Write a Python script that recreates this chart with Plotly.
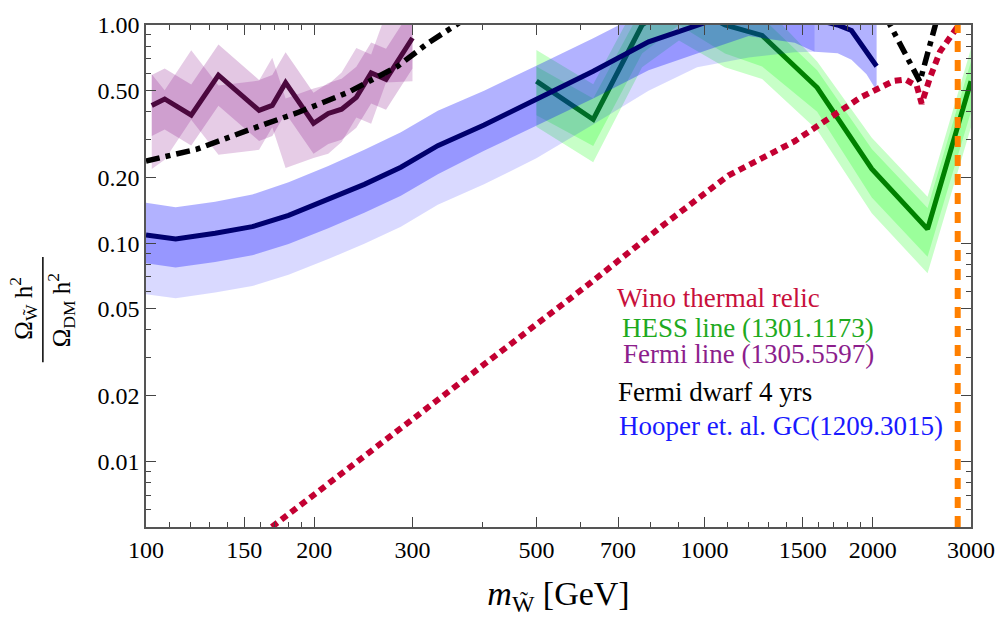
import math
import plotly.graph_objects as go

# ---------------- data ----------------
# Hooper et al. GC (blue)
gc_m = [100, 113, 133, 155, 180, 212, 246, 286, 333, 403, 500, 632, 794, 970, 1200, 1450, 1574, 1731, 1833, 1950, 2033]
gc_c = [0.109, 0.1045, 0.111, 0.119, 0.134, 0.158, 0.186, 0.223, 0.28, 0.348, 0.458, 0.614, 0.837, 1.0, 1.2, 1.12, 1.06, 1.0, 0.944, 0.75, 0.647]
gc_a_hi = [0.153, 0.146, 0.155, 0.167, 0.19, 0.226, 0.268, 0.322, 0.405, 0.50, 0.65, 0.87, 1.17, 1.4, 1.68, 1.57, 1.48, 1.4, 1.32, 1.2, 1.1]
gc_a_lo = [0.0808, 0.0774, 0.082, 0.088, 0.099, 0.117, 0.138, 0.165, 0.207, 0.265, 0.345, 0.46, 0.62, 0.74, 0.89, 0.83, 0.755, 0.742, 0.693, 0.595, 0.50]
gc_b_m = [100, 113, 133, 155, 180, 212, 246, 286, 333, 403, 500, 632, 794, 970, 1200, 1450, 1574]
gc_b_hi = [0.109, 0.1045, 0.111, 0.119, 0.134, 0.158, 0.186, 0.223, 0.28, 0.348, 0.458, 0.614, 0.837, 1.0, 1.2, 1.12, 1.06]
gc_b_lo = [0.0583, 0.0559, 0.0594, 0.0636, 0.0717, 0.0845, 0.0995, 0.119, 0.150, 0.186, 0.245, 0.35, 0.50, 0.64, 0.71, 0.75, 0.755]

# HESS line (green)
hess_m = [500, 632, 773, 900, 1088, 1268, 1591, 1993, 2508, 3000]
hess_c = [0.553, 0.369, 1.0, 1.3, 1.0, 0.896, 0.517, 0.219, 0.116, 0.553]
hess_1_hi = [0.768, 0.535, 1.4, 1.9, 1.4, 1.25, 0.68, 0.304, 0.163, 0.78]
hess_1_lo = [0.386, 0.279, 0.74, 1.0, 0.74, 0.646, 0.40, 0.162, 0.0866, 0.40]
hess_2_hi = [0.646, 0.46, 1.2, 1.6, 1.2, 1.08, 0.62, 0.27, 0.145, 0.68]
hess_2_lo = [0.342, 0.235, 0.64, 0.85, 0.64, 0.565, 0.33, 0.137, 0.0728, 0.34]

# Fermi line (purple)
fermi_m = [102.4, 108, 120.5, 134.8, 159.4, 168.3, 177.8, 199.5, 212, 224, 238, 253, 269, 300]
fermi_c = [0.428, 0.458, 0.386, 0.589, 0.406, 0.428, 0.544, 0.354, 0.393, 0.411, 0.466, 0.603, 0.564, 0.872]
fermi_1_hi = [0.59, 0.632, 0.533, 0.813, 0.56, 0.59, 0.75, 0.489, 0.542, 0.567, 0.643, 0.832, 0.778, 1.2]
fermi_1_lo = [0.31, 0.332, 0.28, 0.427, 0.294, 0.31, 0.394, 0.257, 0.285, 0.298, 0.338, 0.437, 0.409, 0.632]
fermi_2_hi = [0.595, 0.502, 0.766, 0.528, 0.556, 0.707, 0.46, 0.511, 0.534, 0.606, 0.784, 0.733, 1.13, 1.13]
fermi_2_lo = [0.219, 0.241, 0.368, 0.254, 0.268, 0.34, 0.221, 0.246, 0.257, 0.291, 0.377, 0.353, 0.545, 0.553]

# Fermi dwarf 4 yrs (black)
dw_m = [100, 123, 153, 188, 230, 282, 319, 360, 400, None, 2100, 2150, 2430, 2590, 2620]
dw_v = [0.238, 0.269, 0.331, 0.399, 0.491, 0.646, 0.822, 1.0, 1.2, None, 1.12, 1.0, 0.55, 1.0, 1.11]

# Wino thermal relic (red)
wino_m = [168, 614, 840, 1103, 1449, 1660, 1903, 2181, 2288, 2399, 2448, 2533, 2640, 2844]
wino_v = [0.005, 0.0635, 0.12, 0.204, 0.293, 0.367, 0.466, 0.554, 0.563, 0.526, 0.436, 0.573, 0.755, 0.99]

# thermal wino mass (orange)
wino_mass = 2840

x_ticks = [100, 150, 200, 300, 500, 700, 1000, 1500, 2000, 3000]
x_ticktext = ["100", "150", "200", "300", "500", "700", "1000", "1500", "2000", "3000"]
x_minor = [110, 120, 130, 140, 160, 170, 180, 190, 400, 600, 800, 900, 1100, 1200, 1300, 1400, 1600, 1700, 1800, 1900]
y_ticks = [0.01, 0.02, 0.05, 0.1, 0.2, 0.5, 1.0]
y_ticktext = ["0.01", "0.02", "0.05", "0.10", "0.20", "0.50", "1.00"]
y_minor = [0.006, 0.007, 0.008, 0.009, 0.03, 0.04, 0.06, 0.07, 0.08, 0.09, 0.3, 0.4, 0.6, 0.7, 0.8, 0.9]

X_MIN, X_MAX = 100, 3000
Y_MIN, Y_MAX = 0.005, 1.0

legend_items = [
    ("Wino thermal relic", "rgb(200,16,60)"),
    ("HESS line (1301.1173)", "rgb(30,170,30)"),
    ("Fermi line (1305.5597)", "rgb(140,30,140)"),
    ("Fermi dwarf 4 yrs", "black"),
    ("Hooper et. al. GC(1209.3015)", "rgb(25,25,255)"),
]

FONT = "Liberation Serif, Times New Roman, serif"

fig = go.Figure()


def band(xs, hi, lo, color):
    fig.add_trace(go.Scatter(
        x=list(xs) + list(xs)[::-1], y=list(hi) + list(lo)[::-1],
        fill="toself", fillcolor=color, mode="lines", line=dict(width=0),
        hoverinfo="skip", showlegend=False))


def line(xs, ys, color, width, dash="solid"):
    fig.add_trace(go.Scatter(x=xs, y=ys, mode="lines",
                             line=dict(color=color, width=width, dash=dash),
                             hoverinfo="skip", showlegend=False, connectgaps=False))


# green HESS bands and line
band(hess_m, hess_1_hi, hess_1_lo, "rgba(0,255,0,0.22)")
band(hess_m, hess_2_hi, hess_2_lo, "rgba(0,255,0,0.22)")
line(hess_m, hess_c, "rgb(0,128,0)", 5)

# purple Fermi bands and line
band(fermi_m, fermi_2_hi, fermi_2_lo, "rgba(128,0,128,0.2)")
band(fermi_m, fermi_1_hi, fermi_1_lo, "rgba(128,0,128,0.22)")
line(fermi_m, fermi_c, "rgb(75,8,62)", 5)

# blue GC bands and line
band(gc_b_m, gc_b_hi, gc_b_lo, "rgba(0,0,255,0.15)")
band(gc_m, gc_a_hi, gc_a_lo, "rgba(0,0,255,0.30)")
line(gc_m, gc_c, "rgb(0,0,110)", 5)

# black dwarf
line(dw_m, dw_v, "black", 5.5, "14px,6px,5px,6px")

# red relic
line(wino_m, wino_v, "rgb(195,0,50)", 6, "7px,5px")

# orange vertical
line([wino_mass, wino_mass], [Y_MIN, Y_MAX], "rgb(255,128,0)", 6, "11px,8px")

# legend text
leg_y = [292, 323, 350, 389, 423]
leg_x = [619, 624, 625, 620, 621]
for (txt, col), yy, xx in zip(legend_items, leg_y, leg_x):
    fig.add_annotation(text=txt, xref="paper", yref="paper",
                       x=(xx - 146) / 832, y=(527 - yy) / 515,
                       xanchor="left", yanchor="middle", showarrow=False,
                       font=dict(family=FONT, size=27, color=col))

# y-axis title as a fraction
fig.add_annotation(text="Ω<sub>W\u0303</sub> h<sup>2</sup>", xref="paper", yref="paper",
                   x=(22 - 146) / 832, y=(527 - 303) / 515, textangle=-90,
                   showarrow=False, xanchor="center", yanchor="middle",
                   font=dict(family=FONT, size=25, color="black"))
fig.add_annotation(text="Ω<sub>DM</sub> h<sup>2</sup>", xref="paper", yref="paper",
                   x=(60 - 146) / 832, y=(527 - 305) / 515, textangle=-90,
                   showarrow=False, xanchor="center", yanchor="middle",
                   font=dict(family=FONT, size=25, color="black"))
fig.add_shape(type="line", xref="paper", yref="paper",
              x0=(42 - 146) / 832, x1=(42 - 146) / 832,
              y0=(527 - 250) / 515, y1=(527 - 358) / 515,
              line=dict(color="black", width=1.5))

axis_common = dict(type="log", showgrid=False, zeroline=False, showline=True,
                   linecolor="#555", linewidth=1.5, mirror="ticks",
                   ticks="inside", ticklen=10, tickwidth=1.2, tickcolor="#444",
                   tickfont=dict(family=FONT, size=24, color="black"))

fig.update_layout(
    width=1007, height=623,
    margin=dict(l=146, r=29, t=12, b=96),
    plot_bgcolor="white", paper_bgcolor="white",
    showlegend=False,
    xaxis=dict(range=[math.log10(X_MIN), math.log10(X_MAX)],
               tickmode="array", tickvals=x_ticks, ticktext=x_ticktext,
               minor=dict(tickmode="array", tickvals=x_minor, ticks="inside",
                          ticklen=5, tickcolor="#444", showgrid=False),
               title=dict(text="<i>m</i><sub>W\u0303</sub> [GeV]",
                          font=dict(family=FONT, size=34, color="black"), standoff=20),
               **axis_common),
    yaxis=dict(range=[math.log10(Y_MIN), math.log10(Y_MAX)],
               tickmode="array", tickvals=y_ticks, ticktext=y_ticktext,
               minor=dict(tickmode="array", tickvals=y_minor, ticks="inside",
                          ticklen=5, tickcolor="#444", showgrid=False),
               **axis_common),
)

fig.write_html("out.html")
